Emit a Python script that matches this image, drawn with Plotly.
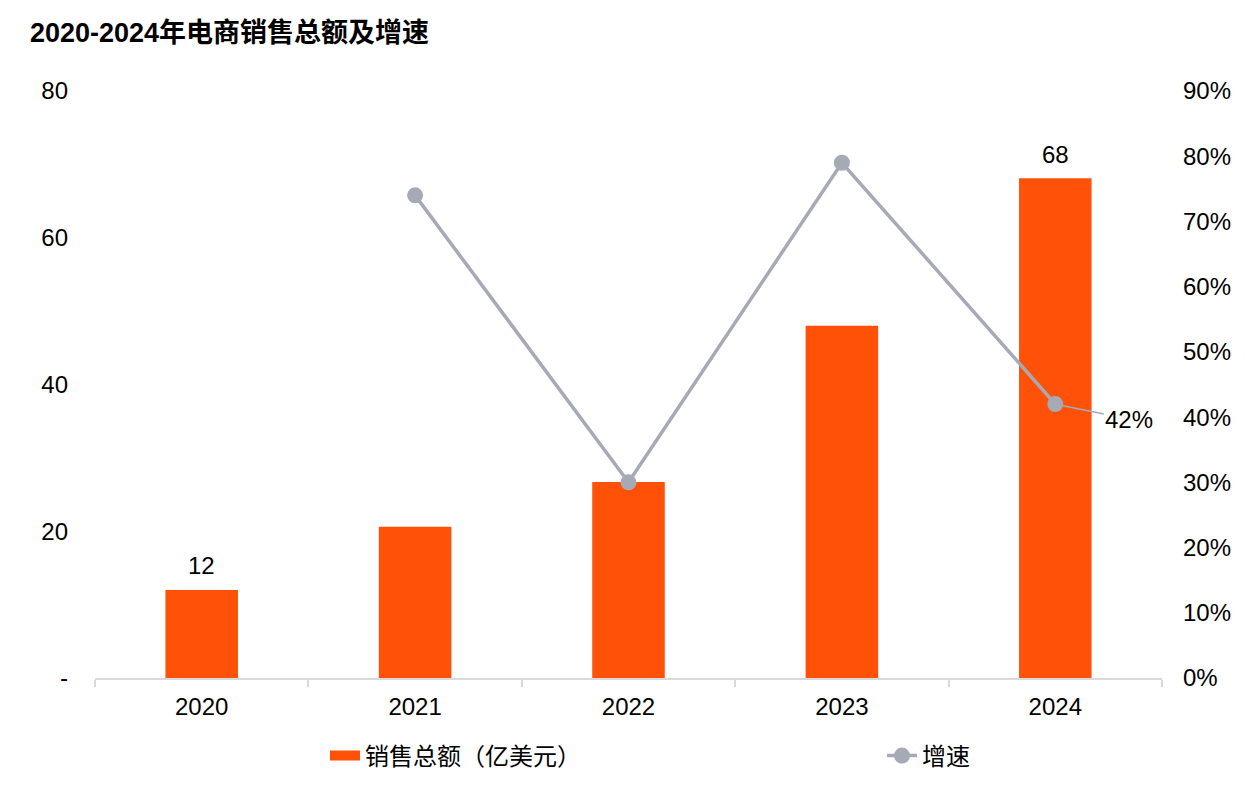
import plotly.graph_objects as go

years = ["2020", "2021", "2022", "2023", "2024"]
sales = [12, 20.6, 26.7, 48.0, 68.1]
sales_labels = ["12", "", "", "", "68"]
growth_years = ["2021", "2022", "2023", "2024"]
growth = [0.74, 0.30, 0.79, 0.42]
left_ticks = [0, 20, 40, 60, 80]
left_tick_text = ["-", "20", "40", "60", "80"]

FONT = "Liberation Sans, Arial, Noto Sans CJK SC, sans-serif"
ORANGE = "#FF5208"
GRAY = "#A6AAB5"
FS = 24

fig = go.Figure()
fig.add_trace(go.Bar(
    x=years, y=sales, name="销售总额（亿美元）",
    marker=dict(color=ORANGE, line=dict(width=0)),
    width=0.34, showlegend=False,
))
# legend-only entry drawn as a thick line so the swatch is a wide bar
fig.add_trace(go.Scatter(
    x=[None], y=[None], name="销售总额（亿美元）", mode="lines",
    line=dict(color=ORANGE, width=14),
    legend="legend", showlegend=True,
))
fig.add_trace(go.Scatter(
    x=growth_years, y=growth, name="增速", yaxis="y2",
    mode="lines+markers",
    line=dict(color=GRAY, width=3.5),
    marker=dict(color=GRAY, size=16),
    legend="legend2", showlegend=True,
))

for i, (v, lab) in enumerate(zip(sales, sales_labels)):
    if lab:
        fig.add_annotation(x=i, y=v, xref="x", yref="y", text=lab,
                           showarrow=False, yanchor="middle", yshift=24,
                           font=dict(size=FS, color="#000000", family=FONT))

fig.add_annotation(
    x=years.index(growth_years[-1]), y=growth[-1], xref="x", yref="y2",
    text=f"{round(growth[-1]*100)}%", showarrow=True,
    arrowhead=0, arrowwidth=1.5, arrowcolor=GRAY,
    ax=74, ay=15, standoff=8,
    font=dict(size=FS, color="#000000", family=FONT),
)

fig.update_layout(
    width=1246, height=806,
    margin=dict(l=95, r=84, t=91, b=128),
    paper_bgcolor="white", plot_bgcolor="white",
    font=dict(family=FONT, size=FS, color="#000000"),
    showlegend=True,
    title=dict(text="<b>2020-2024年电商销售总额及增速</b>",
               x=30/1246, xanchor="left", xref="container",
               y=1-33/806, yanchor="middle", yref="container",
               font=dict(size=27, color="#000000", family=FONT)),
    xaxis=dict(type="category", categoryorder="array", categoryarray=years,
               range=[-0.5, len(years)-0.5],
               showline=True, linecolor="#D9D9D9", linewidth=1.5,
               ticks="outside", tickson="boundaries", ticklen=7, tickcolor="#D9D9D9",
               tickwidth=1.5, showgrid=False, ticklabelstandoff=6, tickangle=0,
               tickfont=dict(size=FS)),
    yaxis=dict(range=[0, 80], tickvals=left_ticks, ticktext=left_tick_text,
               showgrid=False, zeroline=False, showline=False,
               ticklabelstandoff=26, tickfont=dict(size=FS)),
    yaxis2=dict(range=[0, 0.9], dtick=0.1, tickformat=".0%", overlaying="y",
                side="right", showgrid=False, zeroline=False, showline=False,
                ticklabelstandoff=20, tickfont=dict(size=FS)),
    legend=dict(orientation="h", x=(325-95)/1067, xanchor="left",
                y=(678-756)/587, yanchor="middle", font=dict(size=FS)),
    legend2=dict(orientation="h", x=(882-95)/1067, xanchor="left",
                 y=(678-756)/587, yanchor="middle", font=dict(size=FS)),
)

fig.write_html("out.html")
